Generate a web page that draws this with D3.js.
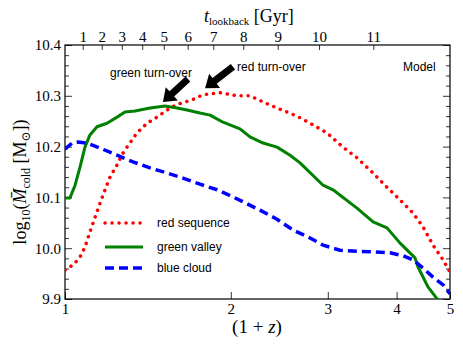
<!DOCTYPE html>
<html>
<head>
<meta charset="utf-8">
<script src="https://cdn.jsdelivr.net/npm/d3@7"></script>
<style>
  body { margin: 0; background: #fff; }
  svg { display: block; }
  .tick text { font-family: "Liberation Serif", "DejaVu Serif", serif; font-size: 15px; fill: #000; }
  .tick line { stroke: #000; stroke-width: 0.8; }
</style>
</head>
<body>
<script>
'use strict';

// x values are (1+z)
var redZ   = [1.000, 1.021, 1.043, 1.065, 1.087, 1.110, 1.134, 1.158, 1.182, 1.207, 1.243, 1.274, 1.296, 1.351, 1.409, 1.469, 1.532, 1.597, 1.701, 1.780, 1.911, 2.053, 2.167, 2.308, 2.426, 2.638, 2.785, 2.990, 3.196, 3.389, 3.609, 3.842, 4.058, 4.284, 4.466, 4.657, 4.858, 5.000];
var redV   = [9.957, 9.963, 9.971, 9.983, 10.002, 10.032, 10.061, 10.089, 10.115, 10.140, 10.164, 10.187, 10.199, 10.227, 10.246, 10.258, 10.272, 10.283, 10.292, 10.302, 10.306, 10.300, 10.300, 10.286, 10.276, 10.260, 10.246, 10.227, 10.199, 10.178, 10.150, 10.120, 10.095, 10.069, 10.042, 10.006, 9.977, 9.953];

var greenZ = [1.000, 1.021, 1.043, 1.065, 1.087, 1.110, 1.143, 1.192, 1.243, 1.285, 1.340, 1.427, 1.519, 1.597, 1.665, 1.758, 1.834, 1.936, 2.078, 2.167, 2.289, 2.426, 2.562, 2.671, 2.941, 3.066, 3.389, 3.625, 3.842, 4.058, 4.320, 4.374, 4.560, 4.755, 4.897];
var greenV = [10.099, 10.099, 10.124, 10.160, 10.199, 10.223, 10.239, 10.246, 10.258, 10.268, 10.270, 10.276, 10.280, 10.276, 10.272, 10.266, 10.262, 10.248, 10.235, 10.219, 10.207, 10.199, 10.183, 10.168, 10.124, 10.115, 10.079, 10.052, 10.040, 10.010, 9.981, 9.963, 9.924, 9.898, 9.870];

var blueZ  = [1.000, 1.030, 1.056, 1.096, 1.158, 1.243, 1.329, 1.427, 1.532, 1.637, 1.758, 1.888, 2.018, 2.259, 2.426, 2.594, 2.785, 2.941, 3.157, 3.389, 3.625, 3.890, 4.110, 4.284, 4.466, 4.657, 4.858, 5.000];
var blueV  = [10.195, 10.207, 10.209, 10.207, 10.197, 10.183, 10.170, 10.158, 10.148, 10.138, 10.126, 10.115, 10.101, 10.075, 10.057, 10.036, 10.020, 10.006, 9.996, 9.994, 9.993, 9.991, 9.985, 9.977, 9.961, 9.943, 9.928, 9.910];

// top axis: lookback time labels and the (1+z) where they sit
var lookbackLabels = [1, 2, 3, 4, 5, 6, 7, 8, 9, 10, 11];
var lookbackZ = [1.077, 1.166, 1.268, 1.381, 1.511, 1.670, 1.859, 2.107, 2.433, 2.892, 3.629];

var xTicks = [1, 2, 3, 4, 5];
var yTicks = [9.9, 10.0, 10.1, 10.2, 10.3, 10.4];

var seriesNames = ["red sequence", "green valley", "blue cloud"];

// turn-over arrows: [tailZ, tailV, tipZ, tipV]
var greenArrow = [1.672, 10.333, 1.506, 10.288];
var redArrow = [2.018, 10.357, 1.796, 10.315];

var W = 463, H = 348;
var margin = {top: 45, right: 13, bottom: 49, left: 65};
var width = W - margin.left - margin.right;
var height = H - margin.top - margin.bottom;

var svg = d3.select("body").append("svg")
  .attr("width", W)
  .attr("height", H);

var g = svg.append("g").attr("transform", "translate(" + margin.left + "," + margin.top + ")");

var x = d3.scaleLog().domain([1, 5]).range([0, width]);
var y = d3.scaleLinear().domain([9.9, 10.4]).range([height, 0]);

svg.append("defs").append("clipPath").attr("id", "clip")
  .append("rect").attr("width", width).attr("height", height);

//minor y ticks every 0.02
var yMinor = d3.range(9.92, 10.4, 0.02).filter(function(v) {
  return Math.abs(Math.round(v * 10) - v * 10) > 0.01;
});

g.append("g").attr("class", "minor")
  .call(d3.axisLeft(y).tickValues(yMinor).tickSizeInner(-4).tickSizeOuter(0).tickFormat(""))
  .call(function(a) { a.select(".domain").remove(); });
g.append("g").attr("class", "minor")
  .attr("transform", "translate(" + width + ",0)")
  .call(d3.axisRight(y).tickValues(yMinor).tickSizeInner(-4).tickSizeOuter(0).tickFormat(""))
  .call(function(a) { a.select(".domain").remove(); });

g.append("g")
  .call(d3.axisLeft(y).tickValues(yTicks).tickSizeInner(-7).tickSizeOuter(0).tickPadding(4).tickFormat(d3.format(".1f")))
  .call(function(a) { a.select(".domain").remove(); });
g.append("g")
  .attr("transform", "translate(" + width + ",0)")
  .call(d3.axisRight(y).tickValues(yTicks).tickSizeInner(-7).tickSizeOuter(0).tickFormat(""))
  .call(function(a) { a.select(".domain").remove(); });

g.append("g")
  .attr("transform", "translate(0," + height + ")")
  .call(d3.axisBottom(x).tickValues(xTicks).tickSizeInner(-7).tickSizeOuter(0).tickPadding(4).tickFormat(d3.format("d")))
  .call(function(a) { a.select(".domain").remove(); });

g.append("g")
  .call(d3.axisTop(x).tickValues(lookbackZ).tickSizeInner(-5).tickSizeOuter(0).tickPadding(3)
    .tickFormat(function(d, i) { return lookbackLabels[i]; }))
  .call(function(a) { a.select(".domain").remove(); });

// frame
g.append("rect")
  .attr("width", width).attr("height", height)
  .attr("fill", "none").attr("stroke", "#000").attr("stroke-width", 1.2);

var line = d3.line()
  .x(function(d) { return x(d[0]); })
  .y(function(d) { return y(d[1]); });

var plot = g.append("g").attr("clip-path", "url(#clip)");

var series = [
  {z: redZ, v: redV, color: "#ff0000", width: 3.5, dash: "0.1,6.9", cap: "round"},
  {z: greenZ, v: greenV, color: "#008000", width: 3, dash: null, cap: "butt"},
  {z: blueZ, v: blueV, color: "#0000ff", width: 3.5, dash: "9,5", cap: "butt"}
];

series.forEach(function(s) {
  plot.append("path")
    .datum(d3.zip(s.z, s.v))
    .attr("fill", "none")
    .attr("stroke", s.color)
    .attr("stroke-width", s.width)
    .attr("stroke-linecap", s.cap)
    .attr("stroke-linejoin", "round")
    .attr("stroke-dasharray", s.dash)
    .attr("d", line);
});

// legend
var legY = [178, 202, 223];
series.forEach(function(s, i) {
  g.append("line")
    .attr("x1", 40).attr("x2", 78)
    .attr("y1", legY[i]).attr("y2", legY[i])
    .attr("stroke", s.color)
    .attr("stroke-width", s.width)
    .attr("stroke-linecap", s.cap)
    .attr("stroke-dasharray", s.dash);
  g.append("text")
    .attr("x", 92).attr("y", legY[i] + 4)
    .attr("font-family", "Liberation Sans, Arial, sans-serif")
    .attr("font-size", 12)
    .text(seriesNames[i]);
});

// arrows
function arrow(a) {
  var x0 = x(a[0]), y0 = y(a[1]), x1 = x(a[2]), y1 = y(a[3]);
  var dx = x1 - x0, dy = y1 - y0, len = Math.sqrt(dx * dx + dy * dy);
  var ux = dx / len, uy = dy / len, px = -uy, py = ux;
  var sw = 3.5, hw = 9, hl = 12;
  var bx = x1 - ux * hl, by = y1 - uy * hl;
  var pts = [
    [x0 + px * sw, y0 + py * sw],
    [bx + px * sw, by + py * sw],
    [bx + px * hw, by + py * hw],
    [x1, y1],
    [bx - px * hw, by - py * hw],
    [bx - px * sw, by - py * sw],
    [x0 - px * sw, y0 - py * sw]
  ];
  g.append("polygon")
    .attr("points", pts.map(function(p) { return p.join(","); }).join(" "))
    .attr("fill", "#000");
}
arrow(greenArrow);
arrow(redArrow);

function note(tx, ty, str) {
  g.append("text")
    .attr("x", tx).attr("y", ty)
    .attr("font-family", "Liberation Sans, Arial, sans-serif")
    .attr("font-size", 12)
    .text(str);
}
note(45, 32, "green turn-over");
note(172, 26, "red turn-over");
note(338, 26, "Model");

// axis titles
var serif = "Liberation Serif, DejaVu Serif, serif";

var topTitle = svg.append("text")
  .attr("x", 204).attr("y", 22)
  .attr("font-family", serif)
  .attr("font-size", 18);
topTitle.append("tspan").attr("font-style", "italic").text("t");
topTitle.append("tspan").attr("font-size", 11).attr("dy", 3).text("lookback");
topTitle.append("tspan").attr("dy", -3).text(" [Gyr]");

var botTitle = svg.append("text")
  .attr("x", 257).attr("y", 333)
  .attr("text-anchor", "middle")
  .attr("font-family", serif)
  .attr("font-size", 19);
botTitle.append("tspan").text("(1 + ");
botTitle.append("tspan").attr("font-style", "italic").text("z");
botTitle.append("tspan").text(")");

var yl = svg.append("text")
  .attr("transform", "translate(26," + (margin.top + height / 2 + 10) + ") rotate(-90)")
  .attr("text-anchor", "middle")
  .attr("font-family", serif)
  .attr("font-size", 18);
yl.append("tspan").text("log");
yl.append("tspan").attr("font-size", 12).attr("dy", 4).text("10");
yl.append("tspan").attr("dy", -4).text("(");
yl.append("tspan").attr("font-style", "italic").text("M\u0304");
yl.append("tspan").attr("font-size", 12).attr("dy", 4).text("cold");
yl.append("tspan").attr("dy", -4).text(" [M");
yl.append("tspan").attr("font-size", 12).attr("dy", 4).text("\u2299");
yl.append("tspan").attr("dy", -4).text("])");
</script>
</body>
</html>
